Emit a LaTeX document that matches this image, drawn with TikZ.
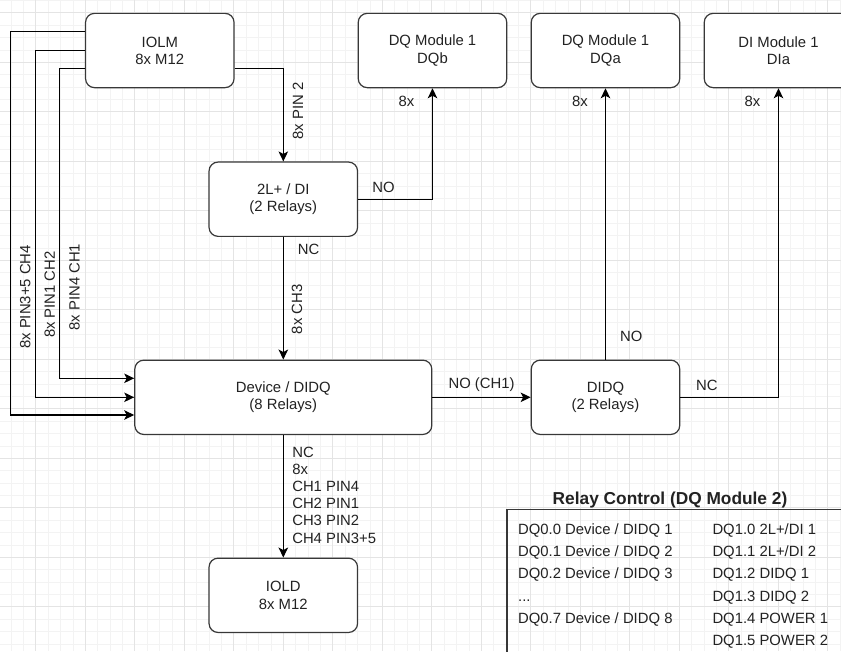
\documentclass[tikz,border=0pt]{standalone}
\usepackage{fontspec}
\setmainfont{Liberation Sans}
\usetikzlibrary{arrows.meta}
\definecolor{ink}{HTML}{222222}
\definecolor{boxline}{HTML}{383838}
\definecolor{gridmajor}{HTML}{E4E4E4}
\definecolor{gridminor}{HTML}{F3F3F3}

\tikzset{
  blk/.style={draw=boxline,line width=1.2pt,rounded corners=9pt,fill=white,text=ink,align=center,
    minimum width=148.5pt,minimum height=74.3pt,inner sep=0pt,font=\fontsize{14.85}{17.2}\selectfont},
  wire/.style={line width=1.2pt,-{Stealth[length=10pt,width=9.5pt,inset=2.5pt]}},
  lbl/.style={font=\fontsize{14.85}{17.2}\selectfont,text=ink,inner sep=0pt},
  vlbl/.style={lbl,rotate=90,anchor=north,outer sep=9.5pt},
  cell/.style={lbl,anchor=base west},
}

\begin{document}
\begin{tikzpicture}[x=1pt,y=-1pt]
        \useasboundingbox (0,0) rectangle (841,651);
        \clip (0,0) rectangle (841,651);
        % grid
        \fill[white] (0,0) rectangle (841,651);
        \foreach \k in {-1,...,67}{\draw[gridminor,line width=0.7pt] ({11.05+12.375*\k},0) -- ++(0,651);}
        \foreach \k in {0,...,52}{\draw[gridminor,line width=0.7pt] (0,{0.425+12.375*\k}) -- ++(841,0);}
        \foreach \k in {-1,...,16}{\draw[gridmajor,line width=0.8pt] ({35.8+49.5*\k},0) -- ++(0,651);}
        \foreach \k in {0,...,13}{\draw[gridmajor,line width=0.8pt] (0,{12.8+49.5*\k}) -- ++(841,0);}
        % blocks
        \node[blk] (iolm) at (159.8,50.5) {IOLM\\8x M12};
        \node[blk] (twol) at (283.3,199.2) {2L+ / DI\\(2 Relays)};
        \node[blk,minimum width=297pt] (dev) at (283.3,397.3) {Device / DIDQ\\(8 Relays)};
        \node[blk] (didq) at (605.5,397.3) {DIDQ\\(2 Relays)};
        \node[blk] (iold) at (283.3,595.3) {IOLD\\8x M12};
        \node[blk] (dqb) at (432.5,50.5) {DQ Module 1\\DQb};
        \node[blk] (dqa) at (605.5,50.5) {DQ Module 1\\DQa};
        \node[blk] (dia) at (778.5,50.5) {DI Module 1\\DIa};
        % IOLM outputs
        \draw[wire] ([yshift=-17.8pt]iolm.east) -| node[vlbl,pos=0.73] {8x PIN 2} (twol.north);
        \draw[wire] ([yshift=18.8pt]iolm.west) -| node[vlbl,pos=0.846] {8x PIN3+5 CH4}
          ([xshift=-123.8pt,yshift=-17.7pt]dev.west) -- ([yshift=-17.7pt]dev.west);
        \draw[wire] (iolm.west) -| node[vlbl,pos=0.852] {8x PIN1 CH2}
          ([xshift=-99.1pt]dev.west) -- (dev.west);
        \draw[wire] ([yshift=-17.8pt]iolm.west) -| node[vlbl,pos=0.853] {8x PIN4 CH1}
          ([xshift=-74.5pt,yshift=19pt]dev.west) -- ([yshift=19pt]dev.west);
        % relay outputs
        \draw[wire] (twol.south) -- node[lbl,pos=0.1,anchor=west,xshift=14pt] {NC}
          node[vlbl,pos=0.59,outer sep=8.4pt] {8x CH3} (twol.south |- dev.north);
        \draw[wire] (twol.east) -| node[lbl,pos=0.17,anchor=south,yshift=6pt] {NO}
          node[lbl,pos=0.942,anchor=east,xshift=-17.5pt] {8x} (dqb.south);
        \draw[wire] (dev.east) -- node[lbl,anchor=south,yshift=5.5pt] {NO (CH1)} (didq.west);
        \draw[wire] (didq.north) -- node[lbl,pos=0.085,anchor=west,xshift=14pt] {NO}
          node[lbl,pos=0.953,anchor=east,xshift=-17pt] {8x} (didq.north |- dqa.south);
        \draw[wire] (didq.east) -| node[lbl,pos=0.077,anchor=south west,yshift=6pt] {NC}
          node[lbl,pos=0.979,anchor=east,xshift=-17.5pt] {8x} (dia.south);
        \draw[wire] (dev.south) -- node[lbl,pos=0.49,anchor=west,xshift=8.4pt,align=left]
          {NC\\8x\\CH1 PIN4\\CH2 PIN1\\CH3 PIN2\\CH4 PIN3+5} (iold.north);
        % relay control table
        \node[lbl,font=\fontsize{17.3}{20}\selectfont\bfseries] (rctitle) at (670,500) {Relay Control (DQ Module 2)};
        \draw[boxline,line width=1.2pt] (507,509.5) rectangle (860,670);
        \foreach \t [count=\i from 0] in {DQ0.0 Device / DIDQ 1,DQ0.1 Device / DIDQ 2,DQ0.2 Device / DIDQ 3}
          {\node[cell] (dqz\i) at (518,{534.3+22.3*\i}) {\t};}
        \node[cell] (dqzdots) at (518,601.2) {...};
        \node[cell] (dqzseven) at (518,623.5) {DQ0.7 Device / DIDQ 8};
        \foreach \t [count=\i from 0] in {DQ1.0 2L+/DI 1,DQ1.1 2L+/DI 2,DQ1.2 DIDQ 1,DQ1.3 DIDQ 2,DQ1.4 POWER 1,DQ1.5 POWER 2}
          {\node[cell] (dqo\i) at (712.3,{534.3+22.3*\i}) {\t};}
      \end{tikzpicture}
\end{document}
